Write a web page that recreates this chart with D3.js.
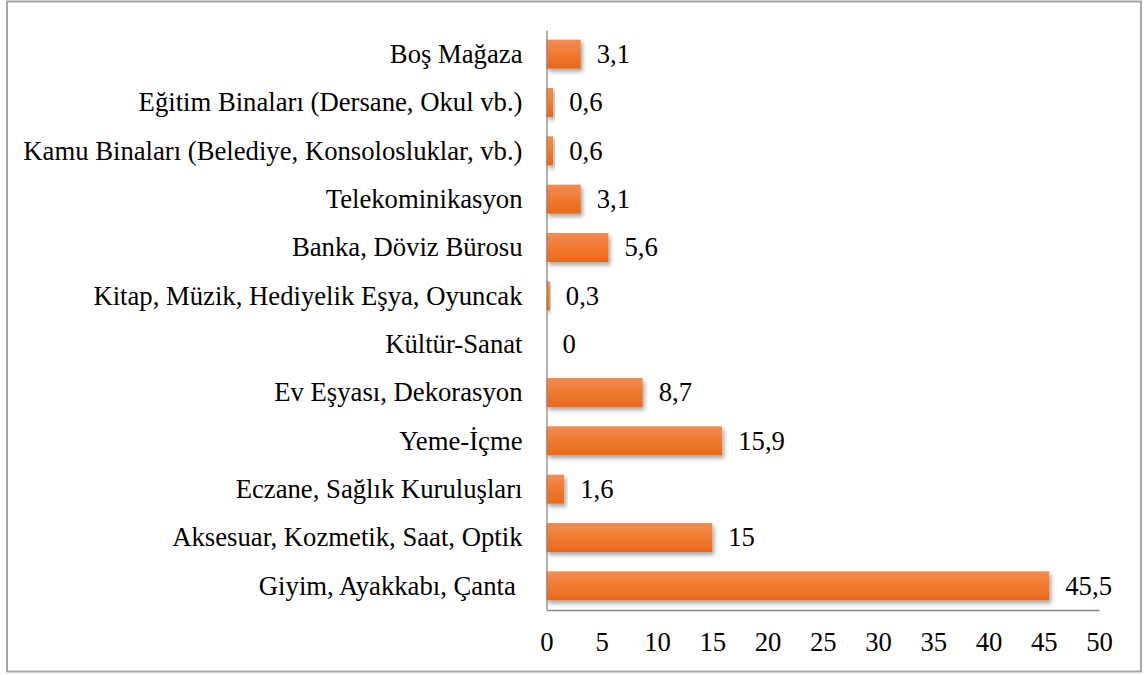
<!DOCTYPE html>
<html>
<head>
<meta charset="utf-8">
<script src="https://cdn.jsdelivr.net/npm/d3@7"></script>
<style>
  html, body { margin: 0; padding: 0; background: #fff; }
</style>
</head>
<body>
<svg id="chart" width="1147" height="675"></svg>
<script>
// Sector categories, top to bottom, with their shares (%)
const categories = [
  "Boş Mağaza",
  "Eğitim Binaları (Dersane, Okul vb.)",
  "Kamu Binaları (Belediye, Konsolosluklar, vb.)",
  "Telekominikasyon",
  "Banka, Döviz Bürosu",
  "Kitap, Müzik, Hediyelik Eşya, Oyuncak",
  "Kültür-Sanat",
  "Ev Eşyası, Dekorasyon",
  "Yeme-İçme",
  "Eczane, Sağlık Kuruluşları",
  "Aksesuar, Kozmetik, Saat, Optik",
  "Giyim, Ayakkabı, Çanta "
];
const values = [3.1, 0.6, 0.6, 3.1, 5.6, 0.3, 0, 8.7, 15.9, 1.6, 15, 45.5];
const valueLabels = ["3,1", "0,6", "0,6", "3,1", "5,6", "0,3", "0", "8,7", "15,9", "1,6", "15", "45,5"];
const xTicks = [0, 5, 10, 15, 20, 25, 30, 35, 40, 45, 50];

const FONT = "'Liberation Serif', 'Times New Roman', serif";
const FS = "26.7px";

const svg = d3.select("#chart");

// Outer frame
svg.append("rect")
  .attr("x", 7).attr("y", 1.5)
  .attr("width", 1134).attr("height", 670)
  .attr("fill", "#fff")
  .attr("stroke", "#a6a6a6")
  .attr("stroke-width", 2);

const plot = { left: 546.5, right: 1099, top: 30, bottom: 610 };

const x = d3.scaleLinear().domain([0, 50]).range([plot.left, plot.right]);
const y = d3.scaleBand().domain(categories).range([plot.top, plot.bottom]).paddingInner(0.4).paddingOuter(0.2);

const defs = svg.append("defs");
const grad = defs.append("linearGradient")
  .attr("id", "barGrad").attr("x1", 0).attr("y1", 0).attr("x2", 0).attr("y2", 1);
grad.append("stop").attr("offset", "0%").attr("stop-color", "#f38d53");
grad.append("stop").attr("offset", "45%").attr("stop-color", "#f07c32");
grad.append("stop").attr("offset", "100%").attr("stop-color", "#e8691c");

const shadow = defs.append("filter").attr("id", "barShadow")
  .attr("x", "-10%").attr("y", "-30%").attr("width", "130%").attr("height", "180%");
shadow.append("feDropShadow")
  .attr("dx", 2).attr("dy", 3).attr("stdDeviation", 2)
  .attr("flood-color", "#000").attr("flood-opacity", 0.35);

// Bars
svg.append("g").selectAll("rect")
  .data(categories)
  .join("rect")
  .attr("x", x(0))
  .attr("y", d => y(d))
  .attr("width", (d, i) => x(values[i]) - x(0))
  .attr("height", y.bandwidth())
  .attr("fill", "url(#barGrad)")
  .attr("filter", "url(#barShadow)")
  .style("display", (d, i) => values[i] > 0 ? null : "none");

// Value labels
svg.append("g").selectAll("text")
  .data(categories)
  .join("text")
  .attr("x", (d, i) => x(values[i]) + 16)
  .attr("y", d => y(d) + y.bandwidth() / 2)
  .attr("dy", "0.33em")
  .style("font-family", FONT)
  .style("font-size", FS)
  .style("fill", "#000")
  .text((d, i) => valueLabels[i]);

// Category axis (left)
const yAxis = d3.axisLeft(y).tickSize(0).tickPadding(24);
const gy = svg.append("g").attr("transform", `translate(${plot.left},0)`).call(yAxis);
gy.select(".domain").attr("stroke", "#888").attr("stroke-width", 1.3);
gy.selectAll("text")
  .attr("dy", "0.33em")
  .style("white-space", "pre")
  .style("font-family", FONT).style("font-size", FS).style("fill", "#000");

// Value axis (bottom)
const xAxis = d3.axisBottom(x).tickValues(xTicks).tickSize(0).tickPadding(22).tickFormat(d => d);
const gx = svg.append("g").attr("transform", `translate(0,${plot.bottom})`).call(xAxis);
gx.select(".domain").attr("stroke", "#888").attr("stroke-width", 1.3);
gx.selectAll("text")
  .style("font-family", FONT).style("font-size", FS).style("fill", "#000");
</script>
</body>
</html>
